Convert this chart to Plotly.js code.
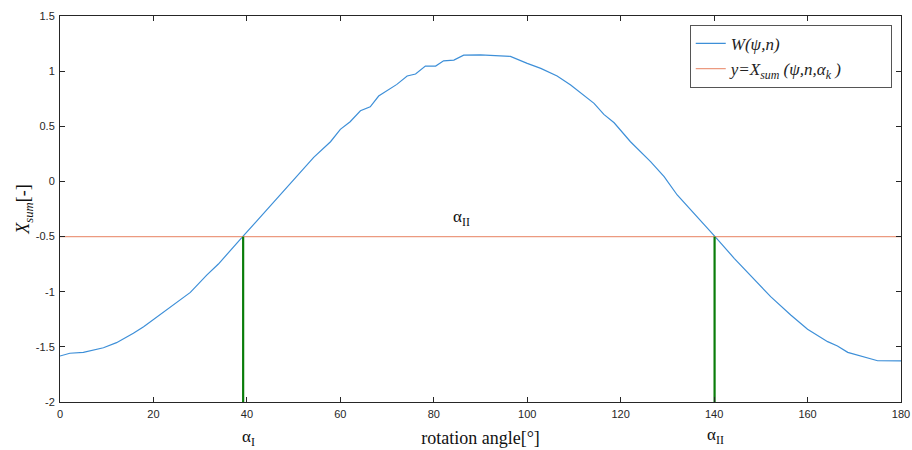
<!DOCTYPE html>
<html>
<head>
<meta charset="utf-8">
<script src="https://cdn.plot.ly/plotly-3.0.1.min.js"></script>
<style>html,body{margin:0;padding:0;background:#fff;}#chart{width:912px;height:450px;}</style>
</head>
<body>
<div id="chart"></div>
<script>
// Rotation angle [deg] and W(psi,n) values
const angle = [0, 2.1, 5, 9.3, 12.1, 15.7, 17.9, 21.4, 24.3, 27.9, 31.4, 33.9, 39.1, 45.7, 51.4, 54.3, 57.9, 60, 62.1, 64.3, 66.4, 68.2, 72.1, 74.3, 76.1, 78.2, 80.4, 82.1, 84.3, 86.4, 90, 92.9, 96.4, 100, 102.9, 106.4, 109.3, 114.3, 116.4, 118.6, 122.1, 126.4, 129.3, 132.1, 136.4, 140.2, 144.3, 148.6, 152.1, 156.4, 160, 164.3, 166.4, 168.6, 172.1, 175, 180];
const W = [-1.583, -1.558, -1.55, -1.508, -1.462, -1.377, -1.317, -1.211, -1.12, -1.006, -0.849, -0.749, -0.501, -0.193, 0.073, 0.218, 0.36, 0.472, 0.541, 0.641, 0.677, 0.774, 0.88, 0.956, 0.974, 1.046, 1.046, 1.094, 1.1, 1.145, 1.148, 1.143, 1.134, 1.07, 1.025, 0.956, 0.874, 0.708, 0.608, 0.532, 0.36, 0.179, 0.043, -0.123, -0.32, -0.501, -0.697, -0.894, -1.045, -1.211, -1.341, -1.453, -1.492, -1.55, -1.589, -1.626, -1.628];
// Horizontal level y = Xsum
const levelX = [0, 180];
const levelY = [-0.5, -0.5];
// Intersection angles alpha_I and alpha_II
const alphaI = 39.2;
const alphaII = 140.1;
const yBottom = -2;
const yLevel = -0.5;
// Ticks
const xTicks = [0, 20, 40, 60, 80, 100, 120, 140, 160, 180];
const yTicks = [-2, -1.5, -1, -0.5, 0, 0.5, 1, 1.5];
const yTickText = ["-2", "-1.5", "-1", "-0.5", "0", "0.5", "1", "1.5"];

const serif = "Liberation Serif, Times New Roman, serif";
const sans = "Liberation Sans, Arial, sans-serif";
const pad = '\u00a0'.repeat(10);

const traces = [
  {x: angle, y: W, type: 'scatter', mode: 'lines', name: '<i>W(ψ,n)</i>',
   line: {color: '#3d8fd8', width: 1.2}},
  {x: levelX, y: levelY, type: 'scatter', mode: 'lines', name: '<i>y=X<sub>sum</sub> (ψ,n,α<sub>k</sub> )</i>' + pad,
   line: {color: '#ec9a80', width: 1.2}},
  {x: [alphaI, alphaI], y: [yBottom, yLevel], type: 'scatter', mode: 'lines', showlegend: false,
   line: {color: '#0a7d0a', width: 2.2}},
  {x: [alphaII, alphaII], y: [yBottom, yLevel], type: 'scatter', mode: 'lines', showlegend: false,
   line: {color: '#0a7d0a', width: 2.2}}
];

const axisCommon = {
  showline: true, linecolor: '#262626', linewidth: 1, mirror: 'ticks',
  ticks: 'inside', ticklen: 5, tickcolor: '#262626', tickwidth: 1,
  showgrid: false, zeroline: false,
  tickfont: {family: sans, size: 11, color: '#262626'}
};

const layout = {
  width: 912, height: 450,
  margin: {l: 60, r: 11, t: 16, b: 48},
  paper_bgcolor: '#fff', plot_bgcolor: '#fff',
  showlegend: true,
  legend: {x: 0.989, y: 0.977, xanchor: 'right', yanchor: 'top',
    bgcolor: '#fff', bordercolor: '#555', borderwidth: 1,
    font: {family: serif, size: 17, color: '#222'},
    tracegroupgap: 0, itemwidth: 30},
  xaxis: Object.assign({}, axisCommon, {range: [0, 180], tickvals: xTicks, ticktext: xTicks.map(String),
    ticklabelstandoff: 2,
    title: {text: 'rotation angle[°]', font: {family: serif, size: 18, color: '#111'}, standoff: 12}}),
  yaxis: Object.assign({}, axisCommon, {range: [-2, 1.5], tickvals: yTicks, ticktext: yTickText,
    ticklabelstandoff: 2,
    title: {text: '<i>X<sub>sum</sub></i>[-]', font: {family: serif, size: 18, color: '#111'}, standoff: 0}}),
  annotations: [
    {x: 86, y: -0.33, xref: 'x', yref: 'y', text: 'α<sub>II</sub>', showarrow: false,
     font: {family: serif, size: 17, color: '#111'}},
    {x: alphaI + 1.2, y: -0.092, xref: 'x', yref: 'paper', yanchor: 'middle', text: 'α<sub>I</sub>', showarrow: false,
     font: {family: serif, size: 17, color: '#111'}},
    {x: alphaII + 0.3, y: -0.087, xref: 'x', yref: 'paper', yanchor: 'middle', text: 'α<sub>II</sub>', showarrow: false,
     font: {family: serif, size: 17, color: '#111'}}
  ]
};

Plotly.newPlot('chart', traces, layout, {displayModeBar: false, staticPlot: true});
</script>
</body>
</html>
